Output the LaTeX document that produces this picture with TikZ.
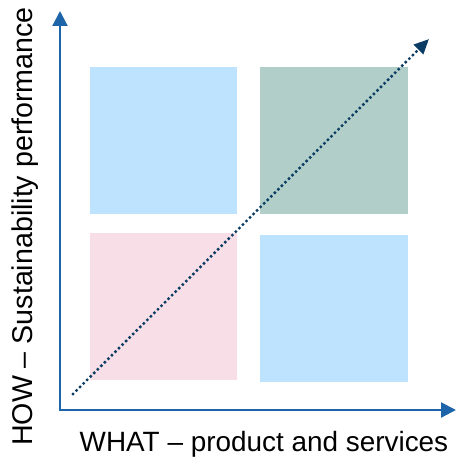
\documentclass[tikz,border=0pt]{standalone}
\usepackage{fontspec}
\setmainfont{Liberation Sans}
\usetikzlibrary{arrows.meta}
\definecolor{axisblue}{HTML}{1E64A8}
\definecolor{navy}{HTML}{0B3C64}
\definecolor{skyfill}{HTML}{BEE3FF}
\definecolor{sagefill}{HTML}{B1CEC8}
\definecolor{rosefill}{HTML}{F8DEE6}
\begin{document}
\begin{tikzpicture}[x=1pt,y=-1pt,
  quad/.style={draw=none,minimum width=#1,minimum height=#1,inner sep=0pt,anchor=north west},
  axisline/.style={draw=axisblue,line width=2.2pt,{Triangle[length=15pt,width=15pt]}-{Triangle[length=15pt,width=15pt]}},
  trend/.style={draw=navy,line width=3.4pt,line cap=round,dash pattern=on 0pt off 5pt,-{Triangle[length=15pt,width=13pt]}},
  axislabel/.style={inner sep=0pt,font=\fontsize{27.9}{32}\selectfont}]
\useasboundingbox (0,0) rectangle (457,457);
% quadrants
\node[quad=147pt,fill=skyfill]  (tl) at (90,67)  {};
\node[quad=147pt,fill=sagefill,minimum width=148pt] (tr) at (260,67) {};
\node[quad=147pt,fill=rosefill] (bl) at (90,233) {};
\node[quad=147pt,fill=skyfill,minimum width=148pt]  (br) at (260,235) {};
% axes
\coordinate (origin) at (60,410);
\coordinate (ytip) at (60,11);
\coordinate (xtip) at (456,410);
\draw[axisline] (ytip) -- (origin) -- (xtip);
% diagonal trend
\coordinate (tstart) at (73,394);
\coordinate (tend) at (429,39);
\draw[trend] (tstart) -- (tend);
% axis labels
\node[axislabel,anchor=base west] (xlab) at (79.5,451.5) {WHAT – product and services};
\node[axislabel,rotate=90,anchor=base,font=\fontsize{28.6}{32}\selectfont] (ylab) at (32,226.5) {HOW – Sustainability performance};
\end{tikzpicture}
\end{document}
